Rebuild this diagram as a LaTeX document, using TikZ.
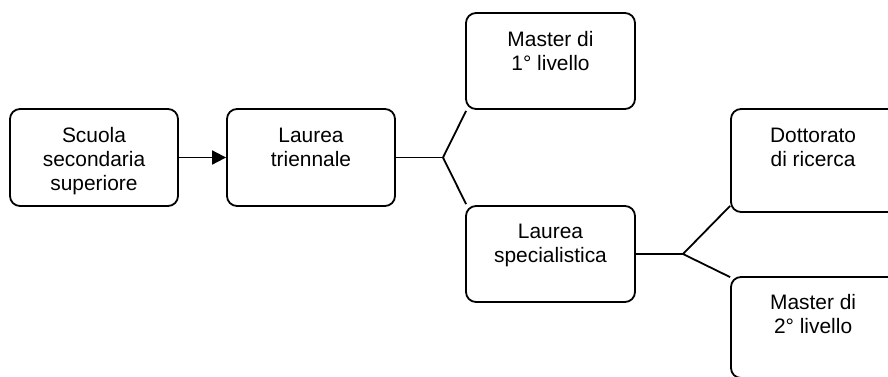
\documentclass[tikz,border=0pt]{standalone}
\usepackage{fontspec}
\setmainfont{Liberation Sans}
\usetikzlibrary{arrows.meta,calc}
\begin{document}
\begin{tikzpicture}[x=1bp,y=-1bp,
  box/.style={draw=black,line width=1.8bp,rounded corners=10bp,rectangle,inner sep=0pt},
  txt/.style={anchor=north,inner sep=0pt,align=center,font=\fontsize{21}{24}\selectfont},
  conn/.style={draw=black,line width=1.8bp}]
\useasboundingbox (0,0) rectangle (888,376);
\clip (0,0) rectangle (888,376);
\node[box,minimum width=168bp,minimum height=97bp] (ss) at (94,157.5) {};
\node[box,minimum width=168bp,minimum height=97bp] (lt) at (311,157.5) {};
\node[box,minimum width=169bp,minimum height=96bp] (m1) at (550.5,61) {};
\node[box,minimum width=169bp,minimum height=96bp] (ls) at (550.5,254) {};
\node[box,minimum width=169bp,minimum height=103bp] (dr) at (815.5,160.5) {};
\node[box,minimum width=169bp,minimum height=101bp] (m2) at (815.5,327.5) {};
\node[txt] (tss) at ($(ss.north)+(0,17.2)$) {\strut Scuola\\\strut secondaria\\\strut superiore};
\node[txt] (tlt) at ($(lt.north)+(0,17.2)$) {\strut Laurea\\\strut triennale};
\node[txt] (tm1) at ($(m1.north)+(0,17.2)$) {\strut Master di\\\strut 1° livello};
\node[txt] (tls) at ($(ls.north)+(0,16.5)$) {\strut Laurea\\\strut specialistica};
\node[txt] (tdr) at ($(dr.north west)+(83,17.2)$) {\strut Dottorato\\\strut di ricerca};
\node[txt] (tm2) at ($(m2.north west)+(83,16.5)$) {\strut Master di\\\strut 2° livello};
\coordinate (b1) at (443,157.5);
\coordinate (b2) at (683,254);
\draw[conn,-{Triangle[length=14bp,width=14bp]}] (ss.east) -- (lt.west);
\draw[conn] (lt.east) -- (b1);
\draw[conn] (b1) -- ($(m1.south west)+(1,1)$);
\draw[conn] (b1) -- ($(ls.north west)+(1,-1)$);
\draw[conn] (ls.east) -- (b2);
\draw[conn] (b2) -- ($(dr.south west)+(0,-7)$);
\draw[conn] (b2) -- ($(m2.north west)+(0,1)$);
\end{tikzpicture}
\end{document}
